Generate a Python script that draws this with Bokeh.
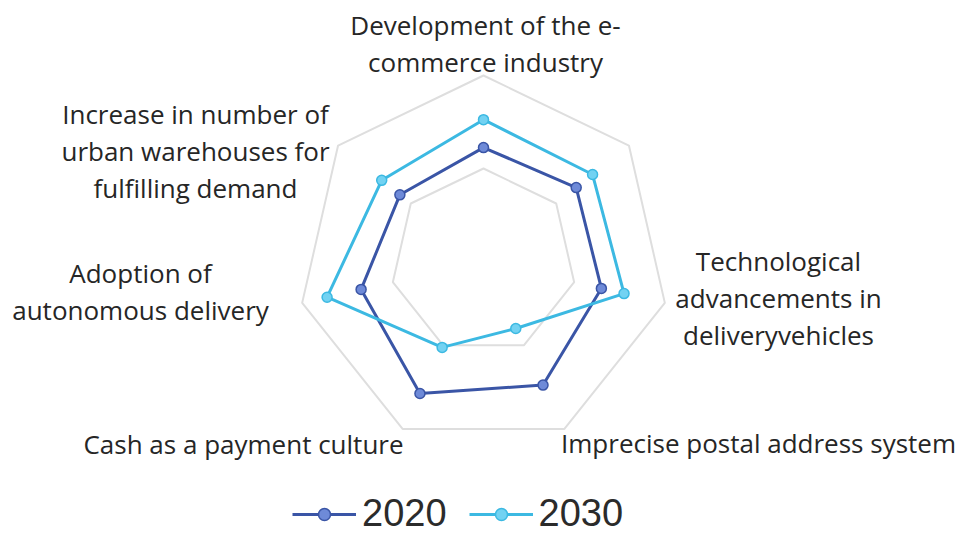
import numpy as np
from bokeh.plotting import figure
from bokeh.models import Legend, LegendItem, ColumnDataSource
from bokeh.core.properties import value
from bokeh.embed import file_html
from bokeh.resources import INLINE

# ---- data ----
categories = [
    "Development of the e-\ncommerce industry",
    "",
    "Technological\nadvancements in\ndeliveryvehicles",
    "Imprecise postal address system",
    "Cash as a payment culture",
    "Adoption of\nautonomous delivery",
    "Increase in number of\nurban warehouses for\nfulfilling demand",
]
series_names = ["2020", "2030"]
values_2020 = [2.45, 2.55, 2.6, 2.95, 3.15, 2.7, 2.3]
values_2030 = [3.05, 3.0, 3.1, 1.6, 2.05, 3.45, 2.8]
grid_levels = [2, 4]

# ---- layout ----
W, H = 960, 537
CX, CY = 483, 261          # centre in canvas px (from top-left)
R_PX = 186                  # outer ring radius in px
MAXV = 4.0
PPU = R_PX / MAXV           # pixels per unit

x_range = (-CX / PPU, (W - CX) / PPU)
y_range = (-(H - CY) / PPU, CY / PPU)

p = figure(width=W, height=H, x_range=x_range, y_range=y_range,
           output_backend="svg", toolbar_location=None,
           x_axis_location=None, y_axis_location=None, min_border=0)
p.grid.visible = False
p.outline_line_color = None
p.background_fill_color = "white"
p.border_fill_color = "white"

n = len(categories)
theta = np.pi / 2 - np.arange(n) * 2 * np.pi / n


def poly(vals):
    v = np.asarray(vals, dtype=float)
    return v * np.cos(theta), v * np.sin(theta)


# grid rings
for g in grid_levels:
    gx, gy = poly([g] * n)
    p.patch(list(gx) + [gx[0]], list(gy) + [gy[0]], fill_color=None,
            line_color="#dedede", line_width=2)

colors_line = {"2020": "#3a55a6", "2030": "#3cb9e2"}
colors_fill = {"2020": "#6e8ad8", "2030": "#72d2f2"}

items = []
for name, vals in zip(series_names, [values_2020, values_2030]):
    sx, sy = poly(vals)
    src = ColumnDataSource(dict(x=list(sx) + [sx[0]], y=list(sy) + [sy[0]]))
    ln = p.line("x", "y", source=src, line_color=colors_line[name], line_width=3)
    pts = ColumnDataSource(dict(x=list(sx), y=list(sy)))
    sc = p.scatter("x", "y", source=pts, size=10, fill_color=colors_fill[name],
                   line_color=colors_line[name], line_width=1.5)
    items.append(LegendItem(label=name, renderers=[ln, sc]))

legend = Legend(items=items, orientation="horizontal", location=(292, 2),
                label_text_font="Liberation Sans", label_text_font_size="38px",
                label_text_color="#2b2b2b", glyph_width=64, glyph_height=30,
                label_height=30, label_standoff=6, spacing=22, padding=0, margin=0,
                border_line_color=None, background_fill_alpha=0)
p.add_layout(legend, "center")

# category labels: anchor (canvas px of block centre) per category
label_centres = [(485, 43), None, (778, 297), (758, 442), (243, 443), (140, 291), (195, 150)]
LINE_H = 37
tx, ty, tt = [], [], []
for cat, c in zip(categories, label_centres):
    if not cat or c is None:
        continue
    lines = cat.split("\n")
    k = len(lines)
    for j, line in enumerate(lines):
        py = c[1] + (j - (k - 1) / 2) * LINE_H
        tx.append((c[0] - CX) / PPU)
        ty.append((CY - py) / PPU)
        tt.append(line)
p.text(tx, ty, text=tt, text_align="center", text_baseline="middle",
       text_font=value("Open Sans"), text_font_size="26px", text_color="#262626")

open("out.html", "w").write(file_html(p, INLINE))
